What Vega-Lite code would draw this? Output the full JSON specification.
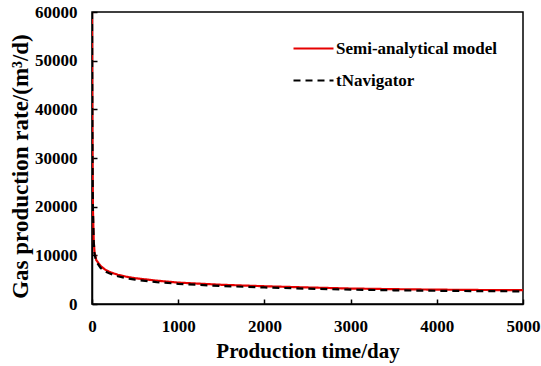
{
  "$schema": "https://vega.github.io/schema/vega-lite/v6.json",
  "width": 431,
  "height": 292,
  "autosize": {"type": "none"},
  "padding": {"left": 92, "top": 12, "right": 18, "bottom": 62},
  "background": "white",
  "config": {
    "font": "Liberation Serif",
    "view": {"stroke": "black", "strokeWidth": 1.5},
    "axis": {
      "grid": false,
      "domainColor": "black",
      "domainWidth": 1.5,
      "tickColor": "black",
      "tickWidth": 1.5,
      "labelFont": "Liberation Serif",
      "labelFontSize": 17,
      "labelFontWeight": "bold",
      "labelColor": "black",
      "titleFont": "Liberation Serif",
      "titleFontSize": 21,
      "titleFontWeight": "bold",
      "titleColor": "black"
    },
    "legend": {"labelFont": "Liberation Serif"}
  },
  "data": {
    "values": [
      {"series": "Semi-analytical model", "day": 0, "rate": 60000},
      {"series": "Semi-analytical model", "day": 2, "rate": 45000},
      {"series": "Semi-analytical model", "day": 5, "rate": 32000},
      {"series": "Semi-analytical model", "day": 10, "rate": 20000},
      {"series": "Semi-analytical model", "day": 20, "rate": 13000},
      {"series": "Semi-analytical model", "day": 30, "rate": 10500},
      {"series": "Semi-analytical model", "day": 50, "rate": 9000},
      {"series": "Semi-analytical model", "day": 100, "rate": 7800},
      {"series": "Semi-analytical model", "day": 150, "rate": 7100},
      {"series": "Semi-analytical model", "day": 200, "rate": 6600},
      {"series": "Semi-analytical model", "day": 300, "rate": 6000},
      {"series": "Semi-analytical model", "day": 400, "rate": 5600},
      {"series": "Semi-analytical model", "day": 500, "rate": 5300},
      {"series": "Semi-analytical model", "day": 750, "rate": 4800},
      {"series": "Semi-analytical model", "day": 1000, "rate": 4400},
      {"series": "Semi-analytical model", "day": 1500, "rate": 3950},
      {"series": "Semi-analytical model", "day": 2000, "rate": 3650},
      {"series": "Semi-analytical model", "day": 2500, "rate": 3400},
      {"series": "Semi-analytical model", "day": 3000, "rate": 3180},
      {"series": "Semi-analytical model", "day": 3500, "rate": 3050},
      {"series": "Semi-analytical model", "day": 4000, "rate": 2950},
      {"series": "Semi-analytical model", "day": 4500, "rate": 2880},
      {"series": "Semi-analytical model", "day": 5000, "rate": 2830},
      {"series": "tNavigator", "day": 0, "rate": 60000},
      {"series": "tNavigator", "day": 2, "rate": 45000},
      {"series": "tNavigator", "day": 5, "rate": 32000},
      {"series": "tNavigator", "day": 10, "rate": 20000},
      {"series": "tNavigator", "day": 20, "rate": 12800},
      {"series": "tNavigator", "day": 30, "rate": 10200},
      {"series": "tNavigator", "day": 50, "rate": 8700},
      {"series": "tNavigator", "day": 100, "rate": 7400},
      {"series": "tNavigator", "day": 150, "rate": 6700},
      {"series": "tNavigator", "day": 200, "rate": 6300},
      {"series": "tNavigator", "day": 300, "rate": 5700},
      {"series": "tNavigator", "day": 400, "rate": 5300},
      {"series": "tNavigator", "day": 500, "rate": 5000},
      {"series": "tNavigator", "day": 750, "rate": 4500},
      {"series": "tNavigator", "day": 1000, "rate": 4150},
      {"series": "tNavigator", "day": 1500, "rate": 3700},
      {"series": "tNavigator", "day": 2000, "rate": 3400},
      {"series": "tNavigator", "day": 2500, "rate": 3150},
      {"series": "tNavigator", "day": 3000, "rate": 2950},
      {"series": "tNavigator", "day": 3500, "rate": 2820},
      {"series": "tNavigator", "day": 4000, "rate": 2720},
      {"series": "tNavigator", "day": 4500, "rate": 2650},
      {"series": "tNavigator", "day": 5000, "rate": 2600}
    ]
  },
  "mark": {"type": "line", "strokeWidth": 2.2, "clip": true},
  "encoding": {
    "x": {
      "field": "day",
      "type": "quantitative",
      "scale": {"domain": [0, 5000], "nice": false},
      "axis": {"values": [0, 1000, 2000, 3000, 4000, 5000], "format": "d", "title": "Production time/day", "tickSize": -5, "labelPadding": 19, "titlePadding": 6, "labelFlush": false}
    },
    "y": {
      "field": "rate",
      "type": "quantitative",
      "scale": {"domain": [0, 60000], "nice": false},
      "axis": {"values": [0, 10000, 20000, 30000, 40000, 50000, 60000], "format": "d", "title": "Gas production rate/(m³/d)", "titleFontSize": 23, "titleY": 154, "tickSize": -5, "labelPadding": 20, "titlePadding": 2}
    },
    "color": {
      "field": "series",
      "type": "nominal",
      "scale": {"domain": ["Semi-analytical model", "tNavigator"], "range": ["#e60000", "black"]},
      "legend": {
        "title": null,
        "orient": "none",
        "legendX": 200,
        "legendY": 15,
        "symbolType": "stroke",
        "symbolSize": 1600,
        "symbolStrokeWidth": 2.2,
        "labelFont": "Liberation Serif",
        "labelFontSize": 17,
        "labelFontWeight": "bold",
        "labelColor": "black",
        "labelLimit": 300,
        "labelOffset": 1,
        "rowPadding": 2
      }
    },
    "strokeDash": {
      "field": "series",
      "type": "nominal",
      "scale": {"domain": ["Semi-analytical model", "tNavigator"], "range": [[1, 0], [7, 5]]},
      "legend": null
    },
    "order": {"field": "day", "type": "quantitative"}
  }
}
